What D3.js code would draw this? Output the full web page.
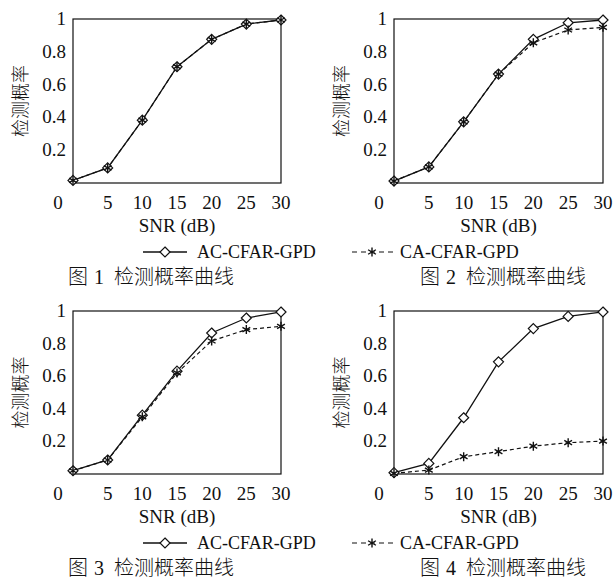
<!DOCTYPE html>
<html><head><meta charset="utf-8">
<script src="https://cdn.jsdelivr.net/npm/d3@7/dist/d3.min.js"></script>
<style>
html,body{margin:0;padding:0;background:#fff;}
svg text{fill:#111;}
svg text.lat{font-family:"Liberation Serif","DejaVu Serif",serif;}
svg text.cjk{font-family:"Noto Sans CJK SC","Noto Sans CJK JP",sans-serif;font-weight:300;}
</style></head>
<body><svg id="c" width="615" height="581"></svg>
<script>
const snr = [0, 5, 10, 15, 20, 25, 30];
const xTickLabels = [5, 10, 15, 20, 25, 30];
const yTickLabels = [0.2, 0.4, 0.6, 0.8, 1];
const seriesNames = ["AC-CFAR-GPD", "CA-CFAR-GPD"];
const yAxisTitle = "检测概率";
const xAxisTitle = "SNR (dB)";
const captionPrefix = "图";
const captionNumbers = ["1", "2", "3", "4"];
const captionTitle = "检测概率曲线";

const fig1AC = [0.016, 0.092, 0.383, 0.709, 0.876, 0.969, 0.994];
const fig1CA = [0.016, 0.092, 0.383, 0.709, 0.876, 0.969, 0.994];
const fig2AC = [0.012, 0.098, 0.373, 0.664, 0.876, 0.977, 0.994];
const fig2CA = [0.012, 0.098, 0.373, 0.664, 0.855, 0.933, 0.949];
const fig3AC = [0.020, 0.086, 0.361, 0.631, 0.865, 0.957, 0.994];
const fig3CA = [0.020, 0.086, 0.351, 0.620, 0.816, 0.886, 0.906];
const fig4AC = [0.008, 0.065, 0.345, 0.688, 0.892, 0.967, 0.994];
const fig4CA = [0.004, 0.024, 0.106, 0.137, 0.171, 0.192, 0.202];

const panelData = [[fig1AC, fig1CA], [fig2AC, fig2CA], [fig3AC, fig3CA], [fig4AC, fig4CA]];
const boxes = [
  {l: 73, r: 281, t: 19, b: 183, cap: 68},
  {l: 394, r: 603, t: 19, b: 183, cap: 420},
  {l: 73, r: 281, t: 311, b: 474, cap: 68},
  {l: 394, r: 603, t: 311, b: 474, cap: 420}
];
const svg = d3.select("#c");

function diamond(g, x, y) {
  const s = 5;
  g.append("path").attr("d", `M${x},${y-s}L${x+s},${y}L${x},${y+s}L${x-s},${y}Z`)
    .attr("fill", "#fff").attr("stroke", "#111").attr("stroke-width", 1.2);
}
function star(g, x, y) {
  const s = 4.5;
  let d = "";
  [90, 30, -30].forEach(a => {
    const r = a * Math.PI / 180, dx = s * Math.cos(r), dy = s * Math.sin(r);
    d += `M${x-dx},${y-dy}L${x+dx},${y+dy}`;
  });
  g.append("path").attr("d", d).attr("stroke", "#111").attr("stroke-width", 1.4).attr("fill", "none");
}

boxes.forEach((bx, i) => {
  const g = svg.append("g");
  const x = d3.scaleLinear().domain([0, 30]).range([bx.l, bx.r]);
  const y = d3.scaleLinear().domain([0, 1]).range([bx.b, bx.t]);
  g.append("rect").attr("x", bx.l).attr("y", bx.t).attr("width", bx.r - bx.l).attr("height", bx.b - bx.t)
    .attr("fill", "none").attr("stroke", "#111").attr("stroke-width", 1.2);
  g.selectAll(".xt").data(xTickLabels).join("text").attr("class", "lat")
    .attr("x", d => x(d)).attr("y", bx.b + 26).attr("text-anchor", "middle")
    .attr("font-size", 19).text(d => d);
  g.append("text").attr("class", "lat").attr("x", bx.l - 15).attr("y", bx.b + 26).attr("text-anchor", "middle")
    .attr("font-size", 19).text("0");
  g.selectAll(".yt").data(yTickLabels).join("text").attr("class", "lat")
    .attr("x", bx.l - 7).attr("y", d => y(d) + 6).attr("text-anchor", "end")
    .attr("font-size", 19).text(d => d === 1 ? "1" : d3.format(".1f")(d));
  g.append("text").attr("class", "cjk").attr("transform", `translate(${bx.l - 54},${(bx.t + bx.b) / 2}) rotate(-90)`)
    .attr("text-anchor", "middle").attr("dominant-baseline", "central")
    .attr("font-size", 18).text(yAxisTitle);
  g.append("text").attr("class", "lat").attr("x", (bx.l + bx.r) / 2).attr("y", bx.b + 49).attr("text-anchor", "middle")
    .attr("font-size", 19).text(xAxisTitle);

  const [ac, ca] = panelData[i];
  const line = d3.line().x((d, k) => x(snr[k])).y(d => y(d));
  g.append("path").datum(ca).attr("d", line).attr("fill", "none").attr("stroke", "#111")
    .attr("stroke-width", 1.2).attr("stroke-dasharray", "4,3");
  g.append("path").datum(ac).attr("d", line).attr("fill", "none").attr("stroke", "#111")
    .attr("stroke-width", 1.3);
  ac.forEach((v, k) => diamond(g, x(snr[k]), y(v)));
  ca.forEach((v, k) => star(g, x(snr[k]), y(v)));

  // caption: 图 N 检测概率曲线
  const cy = bx.b + 101;
  g.append("text").attr("class", "cjk").attr("x", bx.cap).attr("y", cy).attr("font-size", 20).text(captionPrefix);
  g.append("text").attr("class", "lat").attr("x", bx.cap + 31).attr("y", cy).attr("text-anchor", "middle")
    .attr("font-size", 20).text(captionNumbers[i]);
  g.append("text").attr("class", "cjk").attr("x", bx.cap + 46).attr("y", cy).attr("font-size", 20).text(captionTitle);
});

[boxes[0].b, boxes[2].b].forEach(b => {
  const g = svg.append("g");
  const ly = b + 69;
  g.append("line").attr("x1", 143).attr("x2", 187).attr("y1", ly).attr("y2", ly).attr("stroke", "#111").attr("stroke-width", 1.3);
  diamond(g, 165, ly);
  g.append("text").attr("class", "lat").attr("x", 197).attr("y", ly + 6).attr("font-size", 18).text(seriesNames[0]);
  g.append("line").attr("x1", 352).attr("x2", 393).attr("y1", ly).attr("y2", ly).attr("stroke", "#111")
    .attr("stroke-width", 1.2).attr("stroke-dasharray", "5,4");
  star(g, 372, ly);
  g.append("text").attr("class", "lat").attr("x", 400).attr("y", ly + 6).attr("font-size", 18).text(seriesNames[1]);
});
</script></body></html>
